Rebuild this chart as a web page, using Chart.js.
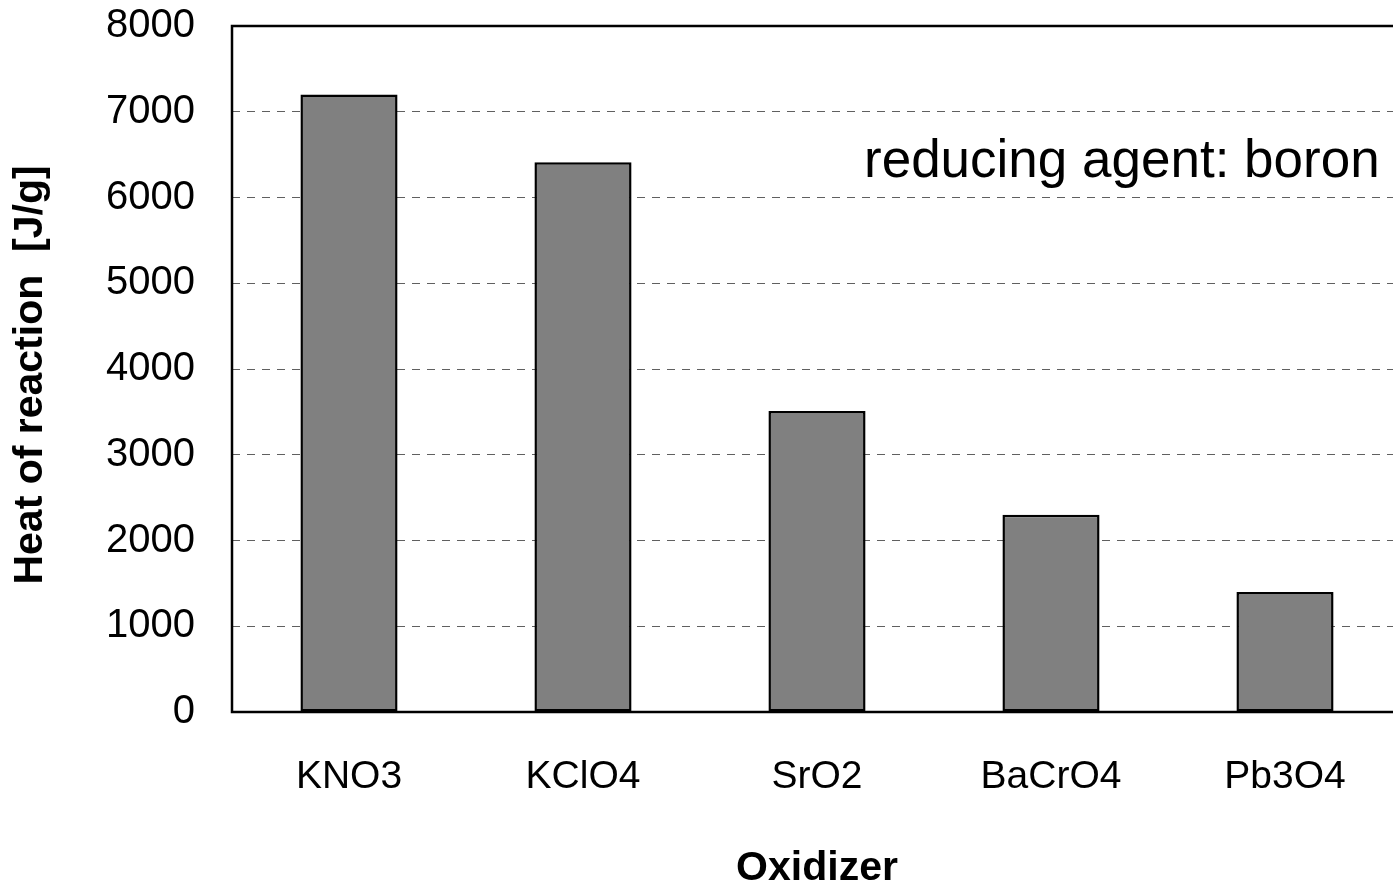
<!DOCTYPE html>
<html>
<head>
<meta charset="utf-8">
<script src="https://cdn.jsdelivr.net/npm/chart.js@4"></script>
<style>
html, body { margin: 0; padding: 0; overflow: hidden; background: #fff; }
#wrap { width: 1420px; height: 889px; position: relative; }
</style>
</head>
<body>
<div id="wrap"><canvas id="c" width="1420" height="889"></canvas></div>
<script>
const categories = ['KNO3', 'KClO4', 'SrO2', 'BaCrO4', 'Pb3O4'];
const heatValues = [7200, 6410, 3510, 2300, 1400];
const yTicks = [0, 1000, 2000, 3000, 4000, 5000, 6000, 7000, 8000];
const xTitle = 'Oxidizer';
const yTitle = 'Heat of reaction  [J/g]';
const noteText = 'reducing agent: boron';

const FONT = '"Liberation Sans", Arial, sans-serif';

const framePlugin = {
  id: 'frame',
  afterDraw(chart) {
    const {ctx, chartArea: a} = chart;
    ctx.save();
    ctx.strokeStyle = '#000';
    ctx.lineWidth = 2.5;
    ctx.strokeRect(a.left, a.top, a.right - a.left, a.bottom - a.top);
    ctx.fillStyle = '#000';
    ctx.font = '53px ' + FONT;
    ctx.textAlign = 'left';
    ctx.textBaseline = 'alphabetic';
    ctx.fillText(noteText, 864, 177);
    // y-axis title
    ctx.translate(30.6, (a.top + a.bottom) / 2 + 6);
    ctx.rotate(-Math.PI / 2);
    ctx.font = 'bold 41px ' + FONT;
    ctx.textAlign = 'center';
    ctx.textBaseline = 'middle';
    ctx.fillText(yTitle, 0, 0);
    ctx.restore();
  }
};

new Chart(document.getElementById('c'), {
  type: 'bar',
  data: {
    labels: categories,
    datasets: [{
      data: heatValues,
      backgroundColor: '#808080',
      borderColor: '#000',
      borderWidth: 2.5,
      borderSkipped: false,
      categoryPercentage: 1,
      barPercentage: 0.415
    }]
  },
  options: {
    responsive: false,
    animation: false,
    devicePixelRatio: 1,
    layout: { padding: { top: 26, right: 18, left: 0, bottom: 0 } },
    plugins: { legend: { display: false }, tooltip: { enabled: false } },
    scales: {
      x: {
        grid: { display: false, drawTicks: false },
        border: { display: false },
        ticks: { color: '#000', font: { family: FONT, size: 39 }, padding: 42, maxRotation: 0 },
        title: { display: true, text: xTitle, color: '#000',
                 font: { family: FONT, size: 41, weight: 'bold', lineHeight: 1 }, padding: { top: 0, bottom: 0 } },
        afterFit(s) { s.height = 177; s.paddingLeft = 0; s.paddingRight = 0; }
      },
      y: {
        min: 0, max: 8000,
        afterBuildTicks(s) { s.ticks = yTicks.map(v => ({ value: v })); },
        grid: {
          drawTicks: false,
          color: ctx => (ctx.tick && (ctx.tick.value === 0 || ctx.tick.value === 8000)) ? 'rgba(0,0,0,0)' : '#606060',
          lineWidth: 1
        },
        border: { display: false, dash: [8, 7] },
        ticks: { color: '#000', font: { family: FONT, size: 40 }, padding: 37,
                 callback: v => String(v) },
        title: { display: false },
        afterFit(s) { s.width = 232; s.paddingTop = 0; s.paddingBottom = 0; }
      }
    }
  },
  plugins: [framePlugin]
});
</script>
</body>
</html>
